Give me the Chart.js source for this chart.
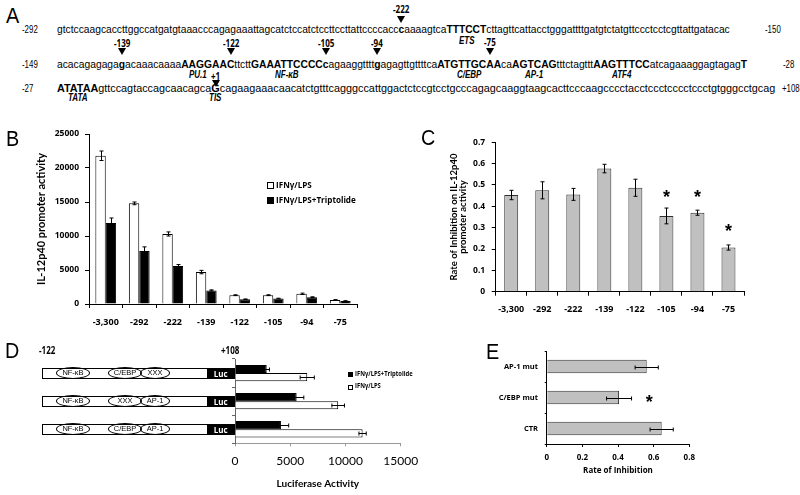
<!DOCTYPE html>
<html><head><meta charset="utf-8">
<script src="https://cdn.jsdelivr.net/npm/chart.js@4.4.1/dist/chart.umd.min.js"></script>
<style>
html,body{margin:0;padding:0;background:#fff;}
#root{position:relative;width:800px;height:495px;overflow:hidden;font-family:"Liberation Sans",Arial,sans-serif;color:#000;background:#fff;}
.abs{position:absolute;white-space:nowrap;line-height:1;transform-origin:0 0;}
canvas{position:absolute;}
.tri{position:absolute;width:0;height:0;border-left:4px solid transparent;border-right:4px solid transparent;border-top:7px solid #000;}
.box{position:absolute;box-sizing:border-box;border:1px solid #000;background:#fff;}
.luc{position:absolute;box-sizing:border-box;background:#000;color:#fff;font:bold 8px "Open Sans",sans-serif;text-align:center;}
.ell{position:absolute;box-sizing:border-box;border:1px solid #000;border-radius:50%;font:7.5px "Liberation Sans",Arial,sans-serif;text-align:center;}
.sq{position:absolute;box-sizing:border-box;border:1px solid #000;}
.lg{position:absolute;white-space:nowrap;font-family:"Open Sans",sans-serif;font-weight:bold;line-height:1;}
</style></head>
<body><div id="root">
<canvas id="cB" width="400" height="220" style="left:0;top:115px"></canvas>
<canvas id="cC" width="400" height="220" style="left:400px;top:115px"></canvas>
<canvas id="cD" width="230" height="160" style="left:200px;top:335px"></canvas>
<canvas id="cE" width="250" height="160" style="left:470px;top:335px"></canvas>
</div>
<script>
// ---------- data ----------
const promoterCats = ['-3,300','-292','-222','-139','-122','-105','-94','-75'];
const lpsActivity = [21800, 14800, 10300, 4700, 1300, 1300, 1500, 600];
const lpsActivityErr = [700, 200, 300, 250, 60, 60, 100, 40];
const tripActivity = [11900, 7800, 5600, 2000, 700, 800, 1000, 450];
const tripActivityErr = [750, 600, 200, 80, 40, 50, 60, 30];

const inhibitionRate = [0.453, 0.475, 0.456, 0.577, 0.487, 0.355, 0.370, 0.207];
const inhibitionErr = [0.022, 0.040, 0.028, 0.020, 0.040, 0.037, 0.012, 0.012];
const inhibitionStars = [null, null, null, null, null, 0.465, 0.465, 0.305];

const constructs = ['AP-1 mut', 'C/EBP mut', 'CTR'];
const lucTrip = [2870, 5580, 4160];
const lucTripErr = [250, 650, 700];
const lucLps = [6540, 9340, 11550];
const lucLpsErr = [640, 570, 330];

const mutCats = ['AP-1 mut', 'C/EBP mut', 'CTR'];
const mutRate = [0.561, 0.406, 0.645];
const mutRateErr = [0.065, 0.070, 0.065];
const mutStars = [null, 0.575, null];

// ---------- panel A / diagram (HTML text) ----------
const root = document.getElementById('root');
function put(html, x, cy, anchor, sx, font){
  const d = document.createElement('div');
  d.className = 'abs'; d.innerHTML = html; d.style.font = font;
  root.appendChild(d);
  const size = parseFloat(font.match(/([\d.]+)px/)[1]);
  const w = d.offsetWidth * sx;
  const left = anchor === 'c' ? x - w/2 : anchor === 'r' ? x - w : x;
  d.style.left = left + 'px'; d.style.top = (cy - size*0.55) + 'px';
  d.style.transform = 'scaleX(' + sx + ')';
  return d;
}
function fitLine(html, left, right, cy, font){
  const d = document.createElement('div');
  d.className = 'abs'; d.innerHTML = html; d.style.font = font;
  root.appendChild(d);
  const size = parseFloat(font.match(/([\d.]+)px/)[1]);
  const sx = (right - left) / d.offsetWidth;
  d.style.left = left + 'px'; d.style.top = (cy - size*0.55) + 'px';
  d.style.transform = 'scaleX(' + sx + ')';
}
function cx(id){ const r = document.getElementById(id).getBoundingClientRect(); return r.left + r.width/2; }
function tri(x, cy){ const t = document.createElement('div'); t.className='tri'; t.style.left=(x-4)+'px'; t.style.top=(cy-3.5)+'px'; root.appendChild(t); }

const SEQ = '10.5px "Liberation Sans",Arial,sans-serif';
const NUM = '10.5px "Liberation Sans",Arial,sans-serif';
const MK = 'bold 10px "Open Sans",sans-serif';
const LAB = 'italic bold 10px "Liberation Sans",Arial,sans-serif';
const LET = '22px "Liberation Sans",Arial,sans-serif';

const line1 = 'gtctccaagcaccttggccatgatgtaaacccagagaaattagcatctccatctccttccttattccccacc<b id="s222">c</b>aaaagtca<b id="sETS">TTTCCT</b>cttagttcattacctgggattttgatgtctatgttccctcctcgttattgatacac';
const line2 = 'acacagagaga<b id="s139">g</b>acaaacaaaa<b id="sPU">AAGGAA<span id="s122">C</span></b>ttctt<b id="sNF">GAAATTCCCC</b><b id="s105">c</b>agaaggtttt<b id="s94">g</b>agagttgttttca<b id="sCE">ATGTTGC<span id="s75">A</span>A</b>ca<b id="sAP">AGTCAG</b>tttctagttt<b id="sATF">AAGTTTCC</b>atcagaaaggagtagag<b>T</b>';
const line3 = '<b id="sTATA">ATATAA</b>gttccagtaccagcaacagca<b id="sG">G</b>cagaagaaacaacatctgtttcagggccattggactctccgtcctgcccagagcaaggtaagcacttcccaagcccctacctccctcccctccctgtgggcctgcag';

put('A', 6, 15, 'l', 0.9, LET);
put('-292', 22, 28.3, 'l', 0.75, NUM);
put('-149', 22, 63.3, 'l', 0.75, NUM);
put('-27', 22, 87.3, 'l', 0.75, NUM);
put('-150', 765, 28.3, 'l', 0.75, NUM);
put('-28', 783, 63.3, 'l', 0.75, NUM);
put('+108', 782, 87.3, 'l', 0.75, NUM);
fitLine(line1, 57, 730, 28.3, SEQ);
fitLine(line2, 57, 747, 63.3, SEQ);
fitLine(line3, 57, 775, 87.3, SEQ);

const markers = [['-222','s222',7.3,19.3],['-139','s139',41.5,51],['-122','s122',41.5,51],['-105','s105',41.5,51],['-94','s94',41.5,51],['-75','s75',40,51],['+1','sG',74,83.3]];
markers.forEach(m => { const x = cx(m[1]); put(m[0], x, m[2], 'c', 0.8, MK); tri(x, m[3]); });
put('PU.1', cx('sG') - 9, 74, 'r', 0.8, LAB);
[['ETS','sETS',40],['NF-κB','sNF',74],['C/EBP','sCE',74],['AP-1','sAP',74],['ATF4','sATF',74],['TATA','sTATA',97.7],['TIS','sG',97.7]]
  .forEach(l => put(l[0], cx(l[1]), l[2], 'c', 0.8, LAB));

put('B', 6, 138, 'l', 0.9, LET);
put('C', 421, 137.5, 'l', 0.9, LET);
put('D', 5, 350, 'l', 0.9, LET);
put('E', 486, 351, 'l', 0.9, LET);

// legends
function legend(x, cy, sz, fill, text, fs){
  const s = document.createElement('div'); s.className='sq';
  s.style.cssText += `left:${x}px;top:${cy-sz/2}px;width:${sz}px;height:${sz}px;background:${fill}`;
  root.appendChild(s);
  const t = document.createElement('div'); t.className='lg'; t.textContent = text;
  t.style.cssText += `left:${x+sz+1.5}px;top:${cy-fs*0.6}px;font-size:${fs}px;transform:scaleX(0.9);transform-origin:0 0`;
  root.appendChild(t);
}
legend(267, 185, 7, '#fff', 'IFNγ/LPS', 9);
legend(267, 200.5, 7, '#000', 'IFNγ/LPS+Triptolide', 9);
legend(348, 374.5, 5, '#000', 'IFNγ/LPS+Triptolide', 6.5);
legend(348, 387, 5, '#fff', 'IFNγ/LPS', 6.5);

// construct diagrams (panel D)
put('-122', 47, 348, 'c', 0.8, MK);
put('+108', 230, 348, 'c', 0.8, MK);
const siteRows = [['NF-κB','C/EBP','XXX'],['NF-κB','XXX','AP-1'],['NF-κB','C/EBP','AP-1']];
const rowCenters = [373.05, 401.15, 429.25];
siteRows.forEach((row, i) => {
  const c = rowCenters[i];
  const b = document.createElement('div'); b.className='box';
  b.style.cssText += `left:41.7px;top:${c-5.5}px;width:166px;height:11px`; root.appendChild(b);
  const l = document.createElement('div'); l.className='luc'; l.textContent='Luc';
  l.style.cssText += `left:206.7px;top:${c-5.5}px;width:28px;height:11px;line-height:11px`; root.appendChild(l);
  const pos = [[56,34],[108,34],[140,30]];
  row.forEach((t, j) => {
    const e = document.createElement('div'); e.className='ell'; e.textContent = t;
    e.style.cssText += `left:${pos[j][0]}px;top:${c-6}px;width:${pos[j][1]}px;height:12px;line-height:10px`;
    root.appendChild(e);
  });
});

// ---------- Chart.js ----------
Chart.defaults.font.family = '"Open Sans", sans-serif';
Chart.defaults.color = '#000';
const TF = 'Lato, sans-serif';

const errorBars = {
  id: 'errorBars',
  afterDatasetsDraw(chart){
    const ctx = chart.ctx, horiz = chart.options.indexAxis === 'y';
    const vs = horiz ? chart.scales.x : chart.scales.y;
    chart.data.datasets.forEach((ds, i) => {
      if (!ds.errors) return;
      const meta = chart.getDatasetMeta(i), cap = ds.errorCap || 2;
      meta.data.forEach((el, j) => {
        const v = ds.data[j], e = ds.errors[j];
        if (v == null || e == null) return;
        const p1 = vs.getPixelForValue(v - e), p2 = vs.getPixelForValue(v + e);
        ctx.save(); ctx.strokeStyle = '#000'; ctx.lineWidth = 1; ctx.beginPath();
        if (horiz) { const y = Math.round(el.y) + 0.5;
          ctx.moveTo(p1, y); ctx.lineTo(p2, y);
          ctx.moveTo(p1, y - cap); ctx.lineTo(p1, y + cap); ctx.moveTo(p2, y - cap); ctx.lineTo(p2, y + cap);
        } else { const x = Math.round(el.x) + 0.5;
          ctx.moveTo(x, p1); ctx.lineTo(x, p2);
          ctx.moveTo(x - cap, p1); ctx.lineTo(x + cap, p1); ctx.moveTo(x - cap, p2); ctx.lineTo(x + cap, p2);
        }
        ctx.stroke(); ctx.restore();
      });
    });
  }
};
const stars = {
  id: 'stars',
  afterDatasetsDraw(chart, args, opts){
    if (!opts.values) return;
    const horiz = chart.options.indexAxis === 'y';
    const cs = horiz ? chart.scales.y : chart.scales.x, vs = horiz ? chart.scales.x : chart.scales.y;
    const ctx = chart.ctx, size = opts.size || 18;
    ctx.save(); ctx.font = 'bold ' + size + 'px "Liberation Sans", Arial, sans-serif';
    ctx.textAlign = 'center'; ctx.textBaseline = 'alphabetic'; ctx.fillStyle = '#000';
    opts.values.forEach((v, j) => {
      if (v == null) return;
      const c = cs.getPixelForValue(j), p = vs.getPixelForValue(v);
      const x = horiz ? p : c, y = horiz ? c : p;
      ctx.fillText('*', x, y + size * 0.57);
    });
    ctx.restore();
  }
};
const base = { responsive: false, animation: false, devicePixelRatio: 1,
  plugins: { legend: { display: false }, tooltip: { enabled: false } } };
const fmt1 = v => v === 0 ? '0' : (+v).toFixed(1);

new Chart(document.getElementById('cB'), {
  type: 'bar',
  data: { labels: promoterCats, datasets: [
    { label: 'IFNγ/LPS', data: lpsActivity, errors: lpsActivityErr, backgroundColor: '#fff', borderColor: '#000', borderWidth: 1, categoryPercentage: 0.62, barPercentage: 1 },
    { label: 'IFNγ/LPS+Triptolide', data: tripActivity, errors: tripActivityErr, backgroundColor: '#000', borderColor: '#000', borderWidth: 1, categoryPercentage: 0.62, barPercentage: 1 }
  ]},
  options: { ...base, layout: { padding: { left: 31, top: 19, right: 43, bottom: 0 } },
    scales: {
      x: { grid: { drawOnChartArea: false, tickLength: 4, color: '#000' }, border: { color: '#000' },
           ticks: { font: { size: 9, weight: 'bold' }, padding: 9, maxRotation: 0, autoSkip: false }, afterFit(s){ s.height = 31; } },
      y: { min: 0, max: 25000, grid: { drawOnChartArea: false, tickLength: 4, color: '#000' }, border: { color: '#000' },
           ticks: { stepSize: 5000, font: { size: 8.5, weight: 'bold' }, padding: 6, callback: v => String(v) },
           title: { display: true, text: 'IL-12p40 promoter activity', font: { family: TF, size: 11, weight: 'bold' }, padding: { top: 4, bottom: 4 } },
           afterFit(s){ s.width = 58; } }
    } },
  plugins: [errorBars]
});

new Chart(document.getElementById('cC'), {
  type: 'bar',
  data: { labels: promoterCats, datasets: [
    { label: 'Rate of inhibition', data: inhibitionRate, errors: inhibitionErr, backgroundColor: '#c0c0c0', borderColor: '#303030', borderWidth: 1, categoryPercentage: 0.9, barPercentage: 0.5 }
  ]},
  options: { ...base, layout: { padding: { left: 45, top: 27.3, right: 56, bottom: 0 } },
    plugins: { ...base.plugins, stars: { values: inhibitionStars, size: 18 } },
    scales: {
      x: { grid: { drawOnChartArea: false, tickLength: 4, color: '#000' }, border: { color: '#000' },
           ticks: { font: { size: 9, weight: 'bold' }, padding: 8, maxRotation: 0, autoSkip: false }, afterFit(s){ s.height = 43.3; } },
      y: { min: 0, max: 0.7, grid: { drawOnChartArea: false, tickLength: 4, color: '#000' }, border: { color: '#000' },
           ticks: { stepSize: 0.1, font: { size: 8.5, weight: 'bold' }, padding: 6.5, callback: fmt1 },
           title: { display: true, text: ['Rate of Inhibition on IL-12p40', 'promoter activity'], font: { family: TF, size: 9.5, weight: 'bold', lineHeight: 1.0 }, padding: { top: 4, bottom: 4 } },
           afterFit(s){ s.width = 50.7; } }
    } },
  plugins: [errorBars, stars]
});

new Chart(document.getElementById('cD'), {
  type: 'bar',
  data: { labels: constructs, datasets: [
    { label: 'IFNγ/LPS+Triptolide', data: lucTrip, errors: lucTripErr, backgroundColor: '#000', borderColor: '#000', borderWidth: 1, categoryPercentage: 0.58, barPercentage: 1 },
    { label: 'IFNγ/LPS', data: lucLps, errors: lucLpsErr, backgroundColor: '#fff', borderColor: '#000', borderWidth: 1, categoryPercentage: 0.58, barPercentage: 1 }
  ]},
  options: { ...base, indexAxis: 'y', layout: { padding: { left: 0, top: 24, right: 29.3, bottom: 0 } },
    scales: {
      x: { min: 0, max: 15000, grid: { drawOnChartArea: false, tickLength: 3, color: '#999' }, border: { color: '#999' },
           ticks: { stepSize: 5000, font: { family: TF, size: 12 }, padding: 7.5, callback: v => String(v), maxRotation: 0 },
           title: { display: true, text: 'Luciferase Activity', font: { family: TF, size: 10, weight: 'bold' }, padding: { top: 0, bottom: 5 } },
           afterFit(s){ s.height = 51.7; } },
      y: { grid: { drawOnChartArea: false, tickLength: 3, color: '#666' }, border: { color: '#666' },
           ticks: { display: false }, afterFit(s){ s.width = 35; } }
    } },
  plugins: [errorBars]
});

new Chart(document.getElementById('cE'), {
  type: 'bar',
  data: { labels: mutCats, datasets: [
    { label: 'Rate of Inhibition', data: mutRate, errors: mutRateErr, backgroundColor: '#c0c0c0', borderColor: '#303030', borderWidth: 1, categoryPercentage: 1, barPercentage: 0.43 }
  ]},
  options: { ...base, indexAxis: 'y', layout: { padding: { left: 0, top: 16, right: 30.7, bottom: 0 } },
    plugins: { ...base.plugins, stars: { values: mutStars, size: 18 } },
    scales: {
      x: { min: 0, max: 0.8, grid: { drawOnChartArea: false, tickLength: 3, color: '#000' }, border: { color: '#000' },
           ticks: { stepSize: 0.2, font: { size: 8, weight: 'bold' }, padding: 5.6, callback: fmt1, maxRotation: 0 },
           title: { display: true, text: 'Rate of Inhibition', font: { size: 8, weight: 'bold' }, padding: { top: 0, bottom: 19 } },
           afterFit(s){ s.height = 51; } },
      y: { grid: { drawOnChartArea: false, tickLength: 2, color: '#000' }, border: { color: '#000' },
           ticks: { font: { size: 7.5, weight: 'bold' }, padding: 6.7 }, afterFit(s){ s.width = 76.7; } }
    } },
  plugins: [errorBars, stars]
});
</script>
</body></html>
